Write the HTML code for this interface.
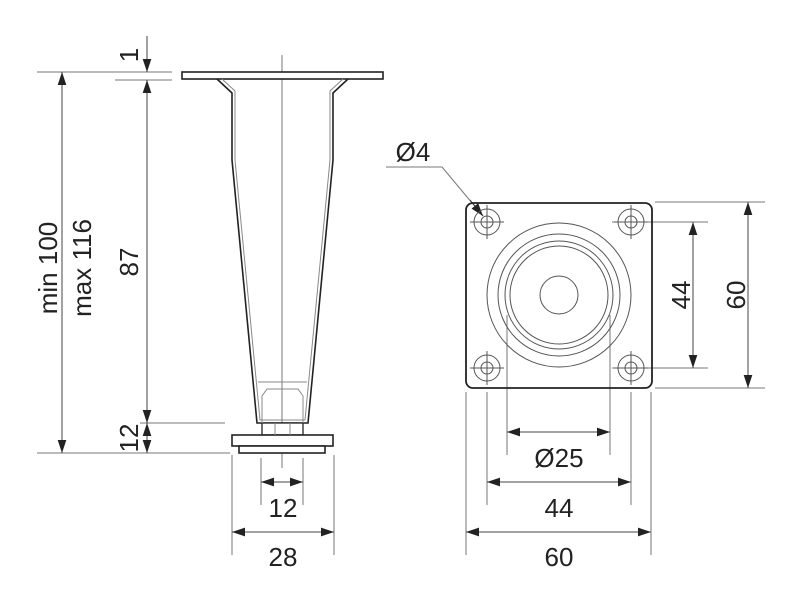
<!DOCTYPE html>
<html><head><style>html,body{margin:0;padding:0;background:#fff}svg{display:block}text{font-family:"Liberation Sans",sans-serif;font-size:26px;fill:#222}</style></head>
<body>
<svg width="800" height="600" viewBox="0 0 800 600" xmlns="http://www.w3.org/2000/svg">
<defs>
<marker id="a" viewBox="0 0 12 8" refX="12" refY="4" markerWidth="13" markerHeight="9" markerUnits="userSpaceOnUse" orient="auto-start-reverse"><path d="M0,0L12,4L0,8z" fill="#222"/></marker>
</defs>
<g stroke="#777" stroke-width="1" fill="none">
<line x1="37" y1="72" x2="172" y2="72"/>
<line x1="115" y1="80" x2="172" y2="80"/>
<line x1="140" y1="423" x2="225" y2="423"/>
<line x1="37" y1="453" x2="230" y2="453"/>
<line x1="282" y1="55" x2="282" y2="468"/>
<line x1="261" y1="458" x2="261" y2="505"/>
<line x1="303" y1="458" x2="303" y2="505"/>
<line x1="232" y1="455" x2="232" y2="555"/>
<line x1="334" y1="455" x2="334" y2="555"/>
<line x1="466" y1="392" x2="466" y2="555"/>
<line x1="651" y1="392" x2="651" y2="555"/>
<line x1="487" y1="392" x2="487" y2="505"/>
<line x1="631" y1="392" x2="631" y2="505"/>
<line x1="507" y1="315" x2="507" y2="455"/>
<line x1="610" y1="315" x2="610" y2="455"/>
<line x1="655" y1="202" x2="765" y2="202"/>
<line x1="655" y1="388" x2="765" y2="388"/>
<line x1="612" y1="222" x2="708" y2="222"/>
<line x1="612" y1="368" x2="708" y2="368"/>
<polyline points="386,167 442,167 483,216"/>
</g>
<g stroke="#444" stroke-width="1" fill="none">
<line x1="62" y1="72" x2="62" y2="453" marker-start="url(#a)" marker-end="url(#a)"/>
<line x1="147" y1="80" x2="147" y2="423" marker-start="url(#a)" marker-end="url(#a)"/>
<line x1="147" y1="36" x2="147" y2="72" marker-end="url(#a)"/>
<line x1="147" y1="423" x2="147" y2="453" marker-start="url(#a)" marker-end="url(#a)"/>
<line x1="261" y1="482" x2="303" y2="482" marker-start="url(#a)" marker-end="url(#a)"/>
<line x1="232" y1="532" x2="334" y2="532" marker-start="url(#a)" marker-end="url(#a)"/>
<line x1="507" y1="432" x2="610" y2="432" marker-start="url(#a)" marker-end="url(#a)"/>
<line x1="487" y1="482" x2="631" y2="482" marker-start="url(#a)" marker-end="url(#a)"/>
<line x1="466" y1="532" x2="651" y2="532" marker-start="url(#a)" marker-end="url(#a)"/>
<line x1="693" y1="222" x2="693" y2="368" marker-start="url(#a)" marker-end="url(#a)"/>
<line x1="748" y1="202" x2="748" y2="388" marker-start="url(#a)" marker-end="url(#a)"/>
<line x1="470" y1="200" x2="483" y2="216" marker-end="url(#a)"/>
</g>
<g stroke="#222" stroke-width="1.6" fill="#fff">
<rect x="182" y="72" width="201" height="7"/>
<polyline points="217,79 232,93 232,160 257,423 308,423 333,160 333,93 348,79" fill="none"/>
<rect x="262" y="423" width="41" height="12" stroke-width="1.3"/>
<rect x="232" y="435" width="101" height="11"/>
<rect x="239" y="446" width="86" height="7"/>
</g>
<g stroke="#888" stroke-width="1" fill="none">
<polyline points="222,79 235,91 235,160 260,420 305,420 330,160 330,91 343,79"/>
<polyline points="258,382 307,382"/>
<polyline points="262,423 262,396 267,389 298,389 303,396 303,423"/>
<line x1="275" y1="423" x2="275" y2="435"/><line x1="290" y1="423" x2="290" y2="435"/>
</g>
<rect x="466" y="203" width="186" height="185" rx="7" stroke="#222" stroke-width="1.8" fill="none"/>
<g stroke="#555" stroke-width="1" fill="none">
<circle cx="559" cy="295" r="72"/><circle cx="559" cy="295" r="61"/><circle cx="559" cy="295" r="54"/><circle cx="559" cy="295" r="49"/><circle cx="559" cy="295" r="19"/>
<circle cx="487" cy="222" r="13"/><circle cx="487" cy="222" r="6"/>
<circle cx="631" cy="222" r="13"/><circle cx="631" cy="222" r="6"/>
<circle cx="487" cy="368" r="13"/><circle cx="487" cy="368" r="6"/>
<circle cx="631" cy="368" r="13"/><circle cx="631" cy="368" r="6"/>
<path d="M470,222h34M487,205v34M614,222h34M631,205v34M470,368h34M487,351v34M614,368h34M631,351v34"/>
</g>
<text x="283" y="517" text-anchor="middle">12</text>
<text x="283" y="566" text-anchor="middle">28</text>
<text x="559" y="467" text-anchor="middle">Ø25</text>
<text x="559" y="517" text-anchor="middle">44</text>
<text x="559" y="566" text-anchor="middle">60</text>
<text x="413" y="161" text-anchor="middle">Ø4</text>
<text transform="translate(690,295) rotate(-90)" text-anchor="middle">44</text>
<text transform="translate(745,295) rotate(-90)" text-anchor="middle">60</text>
<text transform="translate(138,262) rotate(-90)" text-anchor="middle">87</text>
<text transform="translate(138,55) rotate(-90)" text-anchor="middle">1</text>
<text transform="translate(138,438) rotate(-90)" text-anchor="middle">12</text>
<text transform="translate(57,268) rotate(-90)" text-anchor="middle">min 100</text>
<text transform="translate(91,268) rotate(-90)" text-anchor="middle">max 116</text>
</svg>
</body></html>
